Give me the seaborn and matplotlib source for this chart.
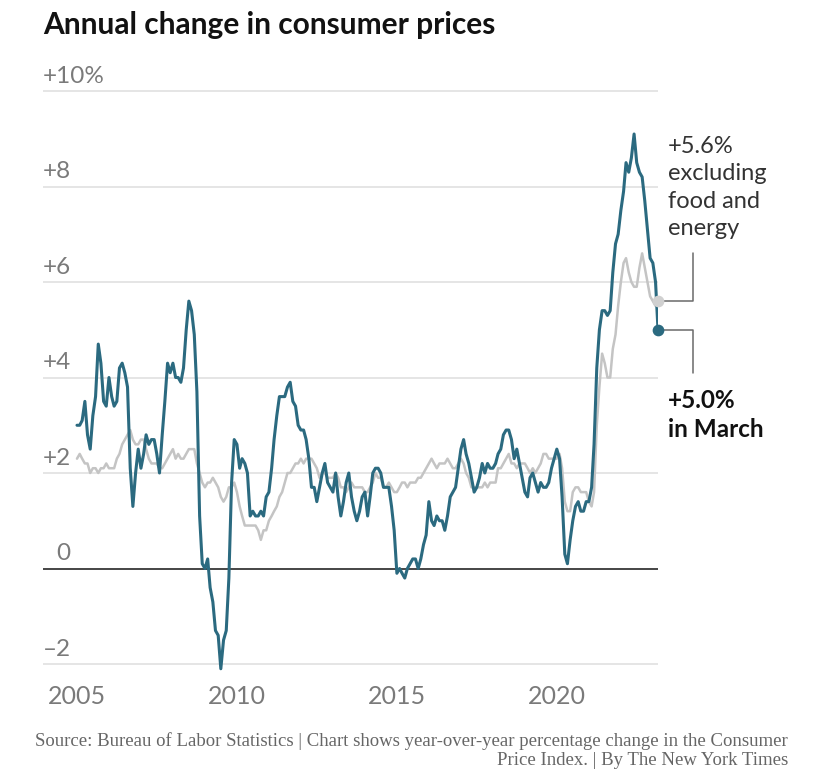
import numpy as np
import pandas as pd
import matplotlib.pyplot as plt
import seaborn as sns

# Year-over-year % change, monthly, Jan 2005 - Mar 2023
cpi_all = [
    3.0, 3.0, 3.1, 3.5, 2.8, 2.5, 3.2, 3.6, 4.7, 4.3, 3.5, 3.4,   # 2005
    4.0, 3.6, 3.4, 3.5, 4.2, 4.3, 4.1, 3.8, 2.1, 1.3, 2.0, 2.5,   # 2006
    2.1, 2.4, 2.8, 2.6, 2.7, 2.7, 2.4, 2.0, 2.8, 3.5, 4.3, 4.1,   # 2007
    4.3, 4.0, 4.0, 3.9, 4.2, 5.0, 5.6, 5.4, 4.9, 3.7, 1.1, 0.1,   # 2008
    0.0, 0.2, -0.4, -0.7, -1.3, -1.4, -2.1, -1.5, -1.3, -0.2, 1.8, 2.7,  # 2009
    2.6, 2.1, 2.3, 2.2, 2.0, 1.1, 1.2, 1.1, 1.1, 1.2, 1.1, 1.5,   # 2010
    1.6, 2.1, 2.7, 3.2, 3.6, 3.6, 3.6, 3.8, 3.9, 3.5, 3.4, 3.0,   # 2011
    2.9, 2.9, 2.7, 2.3, 1.7, 1.7, 1.4, 1.7, 2.0, 2.2, 1.8, 1.7,   # 2012
    1.6, 2.0, 1.5, 1.1, 1.4, 1.8, 2.0, 1.5, 1.2, 1.0, 1.2, 1.5,   # 2013
    1.6, 1.1, 1.5, 2.0, 2.1, 2.1, 2.0, 1.7, 1.7, 1.7, 1.3, 0.8,   # 2014
    -0.1, 0.0, -0.1, -0.2, 0.0, 0.1, 0.2, 0.2, 0.0, 0.2, 0.5, 0.7,  # 2015
    1.4, 1.0, 0.9, 1.1, 1.0, 1.0, 0.8, 1.1, 1.5, 1.6, 1.7, 2.1,   # 2016
    2.5, 2.7, 2.4, 2.2, 1.9, 1.6, 1.7, 1.9, 2.2, 2.0, 2.2, 2.1,   # 2017
    2.1, 2.2, 2.4, 2.5, 2.8, 2.9, 2.9, 2.7, 2.3, 2.5, 2.2, 1.9,   # 2018
    1.6, 1.5, 1.9, 2.0, 1.8, 1.6, 1.8, 1.7, 1.7, 1.8, 2.1, 2.3,   # 2019
    2.5, 2.3, 1.5, 0.3, 0.1, 0.6, 1.0, 1.3, 1.4, 1.2, 1.2, 1.4,   # 2020
    1.4, 1.7, 2.6, 4.2, 5.0, 5.4, 5.4, 5.3, 5.4, 6.2, 6.8, 7.0,   # 2021
    7.5, 7.9, 8.5, 8.3, 8.6, 9.1, 8.5, 8.3, 8.2, 7.7, 7.1, 6.5,   # 2022
    6.4, 6.0, 5.0,                                                # 2023
]

cpi_core = [
    2.3, 2.4, 2.3, 2.2, 2.2, 2.0, 2.1, 2.1, 2.0, 2.1, 2.1, 2.2,   # 2005
    2.1, 2.1, 2.1, 2.3, 2.4, 2.6, 2.7, 2.8, 2.9, 2.7, 2.6, 2.6,   # 2006
    2.7, 2.7, 2.5, 2.3, 2.2, 2.2, 2.2, 2.1, 2.1, 2.2, 2.3, 2.4,   # 2007
    2.5, 2.3, 2.4, 2.3, 2.3, 2.4, 2.5, 2.5, 2.5, 2.2, 2.0, 1.8,   # 2008
    1.7, 1.8, 1.8, 1.9, 1.8, 1.7, 1.5, 1.4, 1.5, 1.7, 1.7, 1.8,   # 2009
    1.6, 1.3, 1.1, 0.9, 0.9, 0.9, 0.9, 0.9, 0.8, 0.6, 0.8, 0.8,   # 2010
    1.0, 1.1, 1.2, 1.3, 1.5, 1.6, 1.8, 2.0, 2.0, 2.1, 2.2, 2.2,   # 2011
    2.3, 2.2, 2.3, 2.3, 2.3, 2.2, 2.1, 1.9, 2.0, 2.0, 1.9, 1.9,   # 2012
    1.9, 2.0, 1.9, 1.7, 1.7, 1.6, 1.7, 1.8, 1.7, 1.7, 1.7, 1.7,   # 2013
    1.6, 1.6, 1.7, 1.8, 2.0, 1.9, 1.9, 1.7, 1.7, 1.8, 1.7, 1.6,   # 2014
    1.6, 1.7, 1.8, 1.8, 1.7, 1.8, 1.8, 1.8, 1.9, 1.9, 2.0, 2.1,   # 2015
    2.2, 2.3, 2.2, 2.1, 2.2, 2.2, 2.2, 2.3, 2.2, 2.1, 2.1, 2.2,   # 2016
    2.3, 2.2, 2.0, 1.9, 1.7, 1.7, 1.7, 1.7, 1.7, 1.8, 1.7, 1.8,   # 2017
    1.8, 1.8, 2.1, 2.1, 2.2, 2.3, 2.4, 2.2, 2.2, 2.1, 2.2, 2.2,   # 2018
    2.2, 2.1, 2.0, 2.1, 2.0, 2.1, 2.2, 2.4, 2.4, 2.3, 2.3, 2.3,   # 2019
    2.3, 2.4, 2.1, 1.4, 1.2, 1.2, 1.6, 1.7, 1.7, 1.6, 1.6, 1.6,   # 2020
    1.4, 1.3, 1.6, 3.0, 3.8, 4.5, 4.3, 4.0, 4.0, 4.6, 4.9, 5.5,   # 2021
    6.0, 6.4, 6.5, 6.2, 6.0, 5.9, 5.9, 6.3, 6.6, 6.3, 6.0, 5.7,   # 2022
    5.6, 5.5, 5.6,                                                # 2023
]

months = pd.date_range("2005-01-01", periods=len(cpi_all), freq="MS")
year_ticks = [2005, 2010, 2015, 2020]
y_ticks = [-2, 0, 2, 4, 6, 8, 10]
y_labels = ["\u20132", "0", "+2", "+4", "+6", "+8", "+10%"]

BLUE = "#2b6a80"
GRAY = "#c4c4c4"
LABEL = "#7a7a7a"

df = pd.DataFrame({"date": months, "all": cpi_all, "core": cpi_core})

sns.set_theme(style="white")
plt.rcParams["font.family"] = ["Lato", "DejaVu Sans"]

fig = plt.figure(figsize=(8.21, 7.77), dpi=100)
ax = fig.add_axes([43 / 821, 0.127, (658 - 43) / 821, 0.762])

sns.lineplot(data=df, x="date", y="core", color=GRAY, lw=1.8, ax=ax)
sns.lineplot(data=df, x="date", y="all", color=BLUE, lw=2.2, ax=ax)

last = df.iloc[-1]
ax.scatter([last["date"]], [last["core"]], s=55, color="#d0d0d0", zorder=4, clip_on=False)
ax.scatter([last["date"]], [last["all"]], s=55, color=BLUE, zorder=5, clip_on=False)

ax.set_xlim(pd.Timestamp("2003-12-10"), pd.Timestamp("2023-03-01"))
ax.set_ylim(-2.3, 10.1)

ax.set_yticks(y_ticks)
ax.set_yticklabels([])
ax.tick_params(axis="y", length=0)
ax.grid(axis="y", color="#e3e3e3", lw=1.3)
ax.grid(axis="x", visible=False)
ax.axhline(0, color="#3a3a3a", lw=1.3, zorder=1)
for s in ax.spines.values():
    s.set_visible(False)

for v, lab in zip(y_ticks, y_labels):
    if lab == "0":
        ax.annotate(lab, xy=(0, v), xycoords=("axes fraction", "data"),
                    xytext=(20, 6), textcoords="offset points",
                    ha="right", va="baseline", fontsize=17.5, color=LABEL)
    else:
        ax.annotate(lab, xy=(0, v), xycoords=("axes fraction", "data"),
                    xytext=(0, 6), textcoords="offset points",
                    ha="left", va="baseline", fontsize=17.5, color=LABEL)

ax.set_xticks([pd.Timestamp(f"{y}-01-01") for y in year_ticks])
ax.set_xticklabels([str(y) for y in year_ticks])
ax.tick_params(axis="x", length=0, labelsize=18, labelcolor=LABEL, pad=5)
ax.set_xlabel("")
ax.set_ylabel("")

# connectors and labels for the last month
ax.annotate("", xy=(last["date"], last["core"]), xycoords="data",
            xytext=(25, 35), textcoords="offset points",
            arrowprops=dict(arrowstyle="-", color="#6a6a6a", lw=1.1,
                            connectionstyle="angle,angleA=90,angleB=0,rad=0",
                            shrinkA=0, shrinkB=3))
ax.annotate("", xy=(last["date"], last["all"]), xycoords="data",
            xytext=(25, -31), textcoords="offset points",
            arrowprops=dict(arrowstyle="-", color="#6a6a6a", lw=1.1,
                            connectionstyle="angle,angleA=90,angleB=0,rad=0",
                            shrinkA=0, shrinkB=3))
ax.annotate(f"+{last['core']:.1f}%\nexcluding\nfood and\nenergy",
            xy=(last["date"], last["core"]), xycoords="data",
            xytext=(7, 119), textcoords="offset points",
            ha="left", va="top", fontsize=17, color="#333333", linespacing=1.38,
            annotation_clip=False)
ax.annotate(f"+{last['all']:.1f}%\nin March",
            xy=(last["date"], last["all"]), xycoords="data",
            xytext=(7, -43), textcoords="offset points",
            ha="left", va="top", fontsize=17.5, color="#111111", fontweight="bold",
            linespacing=1.28, annotation_clip=False)

fig.text(43 / 821, 1 - 11 / 777, "Annual change in consumer prices",
         ha="left", va="top", fontsize=21.5, fontweight="bold", color="#121212")

fig.text(788 / 821, 1 - 732 / 777,
         "Source: Bureau of Labor Statistics | Chart shows year-over-year percentage change in the Consumer\n"
         "Price Index. | By The New York Times",
         ha="right", va="top", fontsize=13.5, color="#666666",
         family=["Liberation Serif", "DejaVu Serif"], linespacing=1.15, multialignment="right")

fig.savefig("out.png", dpi=100)
